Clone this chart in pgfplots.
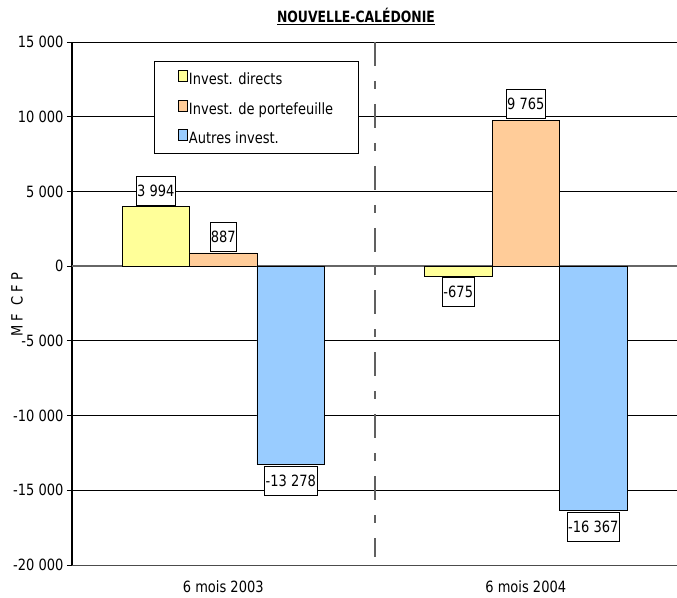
\documentclass[border=0pt]{standalone}
\usepackage{fontspec}
\setmainfont{DejaVu Sans}[FakeStretch=0.84, BoldFeatures={FakeStretch=0.8}]
\usepackage{pgfplots}
\pgfplotsset{compat=1.18}
\definecolor{cyel}{HTML}{FFFF99}
\definecolor{corg}{HTML}{FFCC99}
\definecolor{cblu}{HTML}{99CCFF}
\begin{document}
\begin{tikzpicture}[font=\fontsize{15.5}{18}\selectfont]
\begin{axis}[
  scale only axis,
  width=605pt, height=523pt,
  ybar=0pt, bar width=0.2231,
  xmin=-0.5, xmax=1.5,
  ymin=-20000, ymax=15000,
  ytick={-20000,-15000,-10000,-5000,0,5000,10000,15000},
  scaled y ticks=false,
  xtick={0,1},
  xticklabels={6 mois 2003,6 mois 2004},
  xtick style={draw=none},
  xticklabel style={yshift=-7.5pt},
  ytick style={black, line width=0.8pt},
  tick align=outside,
  major tick length=5pt,
  /pgf/number format/.cd, 1000 sep={\ }, assume math mode=true, /pgfplots/.cd,
  ymajorgrids,
  grid style={black, line width=0.75pt},
  axis x line*=bottom,
  axis y line*=left,
  x axis line style={gray!60!black, line width=0.9pt, -},
  y axis line style={black, line width=1.2pt, -},
  ylabel={M F \ C F P},
  ylabel style={at={(rel axis cs:0,0.5)}, anchor=center, yshift=55pt, xshift=-1.5pt},
  title={\underline{NOUVELLE-CALÉDONIE}},
  title style={at={(0.4694,1)}, anchor=base, yshift=13pt, font={\fontsize{15.5}{18}\selectfont\bfseries}},
  legend style={at={(0.1355,0.9637)}, anchor=north west, draw=black, line width=0.8pt,
     fill=white, inner xsep=24pt, inner ysep=1.75pt, row sep=0pt,
     nodes={inner xsep=1.5pt, inner ysep=8pt, text height=13.5pt, text depth=0pt, anchor=west},
     /tikz/every even column/.style={column sep=1pt}},
  legend cell align=left,
  legend image code/.code={\draw[#1, draw=black, line width=0.6pt] (0pt,-3.5pt) rectangle (8.5pt,7.5pt);},
]
\addplot[sharp plot, gray!80!black, line width=1.3pt, forget plot] coordinates {(-0.5,0) (1.5,0)};
\addplot[sharp plot, gray!75!black, line width=2pt, dash pattern=on 24pt off 15pt on 8pt off 15pt, forget plot] coordinates {(0.5,15000) (0.5,-19480)};
\pgfplotsset{every axis plot/.append style={
  nodes near coords,
  nodes near coords align={vertical},
  every node near coord/.append style={draw=black, fill=white, line width=0.6pt,
     inner xsep=1pt, inner ysep=0pt, minimum height=29pt, outer sep=1.5pt,
     font=\fontsize{15.5}{18}\selectfont}}}
\addplot[bar shift=-0.2231, fill=cyel, draw=black, line width=0.7pt] coordinates {(0,3994) (1,-675)};
\addplot[bar shift=0, fill=corg, draw=black, line width=0.7pt] coordinates {(0,887) (1,9765)};
\addplot[bar shift=0.2231, fill=cblu, draw=black, line width=0.7pt] coordinates {(0,-13278) (1,-16367)};
\legend{Invest. directs, Invest. de portefeuille, Autres invest.}
\end{axis}
\pgfresetboundingbox
\path ([shift={(-72pt,-32pt)}]current axis.south west) rectangle ([shift={(0pt,42pt)}]current axis.north east);
\end{tikzpicture}
\end{document}
